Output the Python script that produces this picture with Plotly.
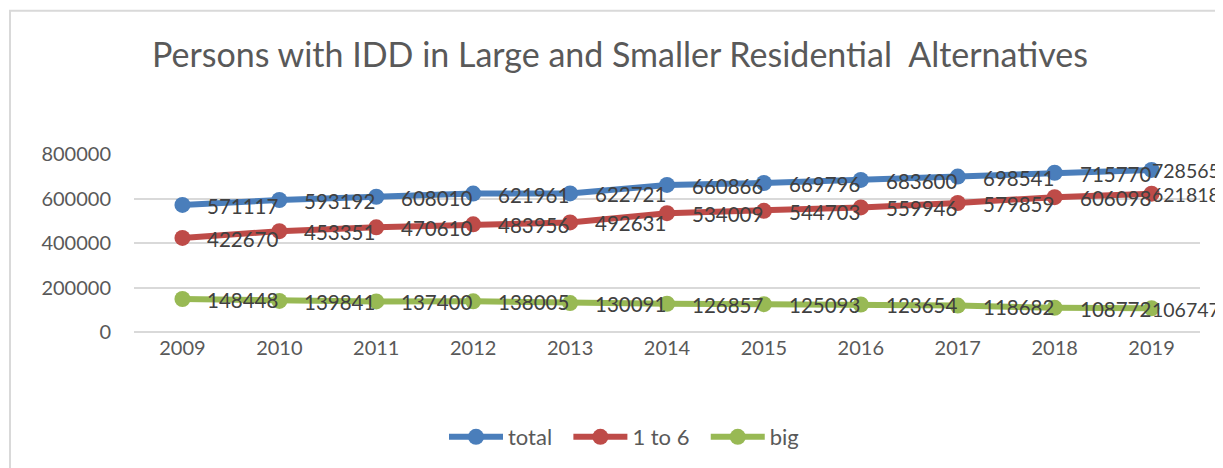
import plotly.graph_objects as go

years = ["2009", "2010", "2011", "2012", "2013", "2014", "2015", "2016", "2017", "2018", "2019"]
total = [571117, 593192, 608010, 621961, 622721, 660866, 669796, 683600, 698541, 715770, 728565]
one_to_six = [422670, 453351, 470610, 483956, 492631, 534009, 544703, 559946, 579859, 606098, 621818]
big = [148448, 139841, 137400, 138005, 130091, 126857, 125093, 123654, 118682, 108772, 106747]

series = [("total", total, "#4A7EBB"), ("1 to 6", one_to_six, "#BE4B48"), ("big", big, "#98B954")]

fig = go.Figure()
annotations = []
for name, vals, col in series:
    fig.add_trace(go.Scatter(
        x=years, y=vals, name=name + "  ", mode="lines+markers",
        line=dict(color=col, width=6),
        marker=dict(color=col, size=16),
        cliponaxis=False,
    ))
    for i, v in enumerate(vals):
        last = i == len(years) - 1
        annotations.append(dict(
            x=i, y=v, xref="x", yref="y", text=str(v), showarrow=False,
            xanchor="left", yanchor="middle",
            xshift=-2 if last else 23, yshift=-1,
            font=dict(family="Lato", size=19.5 if last else 20.5, color="#404040"),
        ))

# the page body has an 8px margin, so geometry is shifted by -8 px
OFF = 8
W, H = 1223 - OFF, 468 - OFF
L, T = 134 - OFF, 154 - OFF
R = W - (1200 - OFF)
B = H - (333 - OFF)
pw, ph = W - L - R, H - T - B
def px(x): return (x - OFF - L) / pw
def py(y): return (H - B - (y - OFF)) / ph

fig.add_shape(type="rect", xref="paper", yref="paper",
              x0=px(10), x1=px(1240), y0=py(10), y1=py(490),
              line=dict(color="#D9D9D9", width=2), fillcolor="rgba(0,0,0,0)", layer="below")

fig.update_layout(
    width=W, height=H,
    margin=dict(l=L, r=R, t=T, b=B),
    paper_bgcolor="white", plot_bgcolor="white",
    annotations=annotations,
    title=dict(text="Persons with IDD in Large and Smaller Residential  Alternatives",
               x=(620 - OFF) / W, xref="container", xanchor="center",
               y=1 - (55 - OFF) / H, yanchor="middle",
               font=dict(family="Lato", size=34, color="#595959")),
    showlegend=True,
    legend=dict(orientation="h", x=px(630), xanchor="center", y=py(437), yref="paper", yanchor="middle",
                font=dict(family="Lato", size=22, color="#595959"), itemwidth=54),
    xaxis=dict(type="category", range=[-0.5, 10.5], showgrid=False, showline=False, zeroline=False,
               tickfont=dict(family="Lato", size=20, color="#595959"), ticks="",
               ticklabelstandoff=2, automargin=False),
    yaxis=dict(range=[0, 800000], dtick=200000, showgrid=True, gridcolor="#D9D9D9", gridwidth=2,
               zeroline=True, zerolinecolor="#D9D9D9", zerolinewidth=2,
               tickfont=dict(family="Lato", size=20, color="#595959"), ticks="",
               tickformat="d", ticklabelstandoff=22, automargin=False),
)

fig.write_html("out.html")
